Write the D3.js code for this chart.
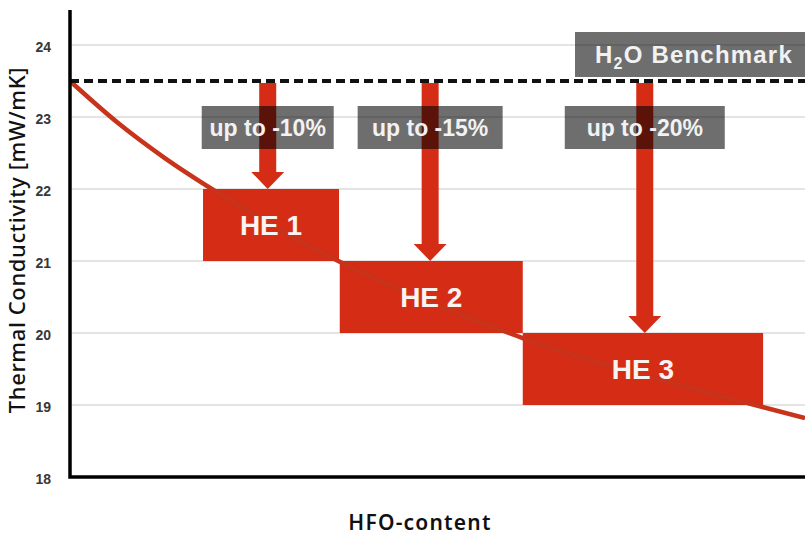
<!DOCTYPE html>
<html>
<head>
<meta charset="utf-8">
<script src="https://cdn.jsdelivr.net/npm/d3@7"></script>
<style>
  body { margin: 0; background: #fff; }
  svg { display: block; }
</style>
</head>
<body>
<div id="chart"></div>
<script>
// values
const yTicks = [18, 19, 20, 21, 22, 23, 24]
const benchmark = 23.5
const lineX = [0, 6.5, 12.9, 19.3, 36.5, 61.6, 92.8, 100]
const lineY = [23.5, 22.92, 22.43, 22.0, 21.0, 19.93, 19.01, 18.82]
const heNames = ['HE 1', 'HE 2', 'HE 3']
const heStart = [18.1, 36.7, 61.6]
const heEnd = [36.6, 61.6, 94.3]
const heTop = [22, 21, 20]
const heBottom = [21, 20, 19]
const arrowX = [26.9, 49.0, 78.2]
const reductionLabels = ['up to -10%', 'up to -15%', 'up to -20%']

let width = 805
let height = 535
let red = '#d42c15'

let svg = d3
  .select('#chart')
  .append('svg')
  .attr('width', width)
  .attr('height', height)

let x = d3.scaleLinear().domain([0, 100]).range([70, 805])
let y = d3.scaleLinear().domain([18, 24]).range([477, 45])

// gridlines
svg
  .selectAll('.grid')
  .data(yTicks.filter(d => d > 18))
  .enter()
  .append('line')
  .attr('x1', x(0))
  .attr('x2', x(100))
  .attr('y1', d => y(d))
  .attr('y2', d => y(d))
  .attr('stroke', '#e4e4e4')
  .attr('stroke-width', 2)

// y tick labels
svg
  .selectAll('.tick-label')
  .data(yTicks)
  .enter()
  .append('text')
  .attr('x', 51)
  .attr('y', d => y(d) + 2)
  .attr('dy', '0.35em')
  .attr('text-anchor', 'end')
  .attr('font-family', 'Liberation Sans, Arial, sans-serif')
  .attr('font-weight', 'bold')
  .attr('font-size', 14)
  .attr('fill', '#3b3636')
  .text(d => d)

// arrows from benchmark down to each box
let shaftW = 17
let headW = 33
let headH = 17
let arrows = arrowX.map((d, i) => ({ x: d, top: benchmark, bottom: heTop[i] }))

svg
  .selectAll('.arrow')
  .data(arrows)
  .enter()
  .append('path')
  .attr('fill', red)
  .attr('d', d => {
    let cx = x(d.x)
    let y0 = y(d.top) + 2
    let y1 = y(d.bottom)
    return `M${cx - shaftW / 2},${y0} L${cx + shaftW / 2},${y0} L${cx + shaftW / 2},${y1 - headH}
      L${cx + headW / 2},${y1 - headH} L${cx},${y1} L${cx - headW / 2},${y1 - headH}
      L${cx - shaftW / 2},${y1 - headH} Z`
  })

// HE boxes
let boxes = heNames.map((d, i) => ({
  name: d, x0: heStart[i], x1: heEnd[i], top: heTop[i], bottom: heBottom[i]
}))

svg
  .selectAll('.he-box')
  .data(boxes)
  .enter()
  .append('rect')
  .attr('x', d => x(d.x0))
  .attr('width', d => x(d.x1) - x(d.x0))
  .attr('y', d => y(d.top))
  .attr('height', d => y(d.bottom) - y(d.top))
  .attr('fill', red)

// conductivity line
let line = d3
  .line()
  .x(d => x(d[0]))
  .y(d => y(d[1]))
  .curve(d3.curveMonotoneX)

svg
  .append('path')
  .datum(lineX.map((d, i) => [d, lineY[i]]))
  .attr('d', line)
  .attr('fill', 'none')
  .attr('stroke', '#c8331b')
  .attr('stroke-width', 4.5)
  .attr('stroke-linejoin', 'round')

svg
  .selectAll('.he-label')
  .data(boxes)
  .enter()
  .append('text')
  .attr('x', d => (x(d.x0) + x(d.x1)) / 2)
  .attr('y', d => (y(d.top) + y(d.bottom)) / 2)
  .attr('dy', '0.36em')
  .attr('text-anchor', 'middle')
  .attr('font-family', 'Liberation Sans, Arial, sans-serif')
  .attr('font-weight', 'bold')
  .attr('font-size', 28)
  .attr('fill', '#fbf3f0')
  .text(d => d.name)

// benchmark dashed line
svg
  .append('line')
  .attr('x1', x(0))
  .attr('x2', x(100))
  .attr('y1', y(benchmark))
  .attr('y2', y(benchmark))
  .attr('stroke', '#111')
  .attr('stroke-width', 4)
  .attr('stroke-dasharray', '9,5')

// grey reduction labels
let labelBoxW = [132, 145, 160]
let labels = svg
  .selectAll('.reduction')
  .data(reductionLabels)
  .enter()
  .append('g')
  .attr('transform', (d, i) => `translate(${x(arrowX[i])},${y(benchmark) + 25})`)

labels
  .append('rect')
  .attr('x', (d, i) => -labelBoxW[i] / 2)
  .attr('width', (d, i) => labelBoxW[i])
  .attr('height', 43)
  .attr('fill', '#000')
  .attr('opacity', 0.57)

labels
  .append('text')
  .attr('y', 21.5)
  .attr('dy', '0.36em')
  .attr('text-anchor', 'middle')
  .attr('font-family', 'Liberation Sans, Arial, sans-serif')
  .attr('font-weight', 'bold')
  .attr('font-size', 23)
  .attr('fill', '#f2f2f2')
  .text(d => d)

// H2O benchmark label
svg
  .append('rect')
  .attr('x', 575)
  .attr('y', y(benchmark) - 49)
  .attr('width', 240)
  .attr('height', 45)
  .attr('fill', '#000')
  .attr('opacity', 0.57)

let bench = svg
  .append('text')
  .attr('x', 694)
  .attr('y', y(benchmark) - 26.5)
  .attr('dy', '0.36em')
  .attr('text-anchor', 'middle')
  .attr('font-family', 'Liberation Sans, Arial, sans-serif')
  .attr('font-weight', 'bold')
  .attr('font-size', 24)
  .attr('letter-spacing', 1.2)
  .attr('fill', '#f2f2f2')

bench.append('tspan').text('H')
bench.append('tspan').attr('font-size', 16).attr('dy', 6).text('2')
bench.append('tspan').attr('dy', -6).text('O Benchmark')

// axes lines
svg
  .append('path')
  .attr('d', `M${x(0)},10 L${x(0)},${y(18)} L${x(100)},${y(18)}`)
  .attr('fill', 'none')
  .attr('stroke', '#000')
  .attr('stroke-width', 3.5)

// axis titles
svg
  .append('text')
  .attr('transform', `translate(25,240) rotate(-90)`)
  .attr('text-anchor', 'middle')
  .attr('font-family', 'Noto Sans, Open Sans, sans-serif')
  .attr('font-weight', 500)
  .attr('font-size', 22)
  .attr('letter-spacing', 0.6)
  .attr('fill', '#111')
  .text('Thermal Conductivity [mW/mK]')

svg
  .append('text')
  .attr('x', 420)
  .attr('y', 530)
  .attr('text-anchor', 'middle')
  .attr('font-family', 'Noto Sans, Open Sans, sans-serif')
  .attr('font-weight', 600)
  .attr('font-size', 21)
  .attr('letter-spacing', 1.2)
  .attr('fill', '#111')
  .text('HFO-content')
</script>
</body>
</html>
